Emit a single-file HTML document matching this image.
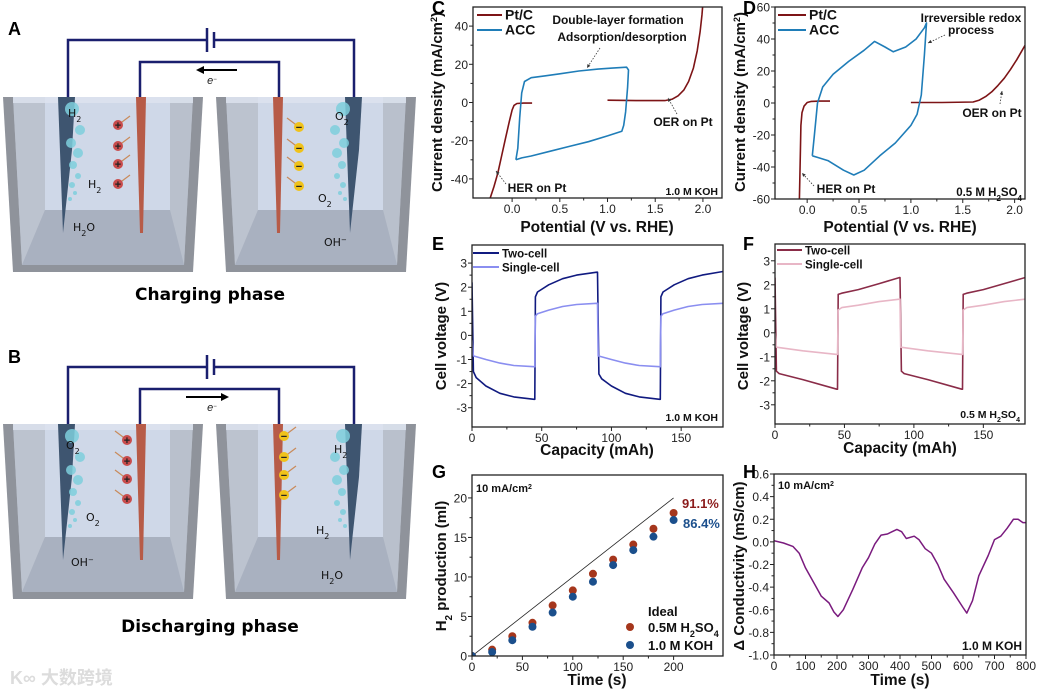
<!DOCTYPE html>
<html><head><meta charset="utf-8">
<style>
html,body{margin:0;padding:0;background:#fff;}
svg{display:block;font-family:"Liberation Sans","Noto Sans CJK SC",sans-serif;}
</style></head>
<body>
<svg id="fig" width="1039" height="692" viewBox="0 0 1039 692" xmlns="http://www.w3.org/2000/svg">
<rect x="0" y="0" width="1039" height="692" fill="#fff"/>
</svg>
<script>
// ---------- DATA ----------
const cPtHerX=[0.21,0.12,0.05,0.02,0.0,-0.03,-0.07,-0.11,-0.15,-0.19,-0.23];
const cPtHerY=[-0.3,-0.3,-0.5,-1.5,-4,-10,-19,-28,-37,-44,-50];
const cPtOerX=[1.0,1.3,1.6,1.68,1.74,1.8,1.85,1.9,1.94,1.97,1.99,2.0];
const cPtOerY=[1.2,1.0,1.0,1.8,3.5,6.5,11,18,27,37,46,52];
const cAccX=[0.04,0.06,0.08,0.1,0.13,0.2,0.35,0.5,0.7,0.9,1.05,1.2,1.22,1.21,1.19,1.17,1.15,1.0,0.8,0.6,0.4,0.2,0.1,0.04];
const cAccY=[-30,-24,-8,5,11,13,14,15,16.5,17.5,18,18.5,17,8,-5,-12,-15,-17.5,-20.5,-23,-25.5,-28,-29,-30];
const dPtHerX=[0.22,0.12,0.04,0.0,-0.03,-0.05,-0.06,-0.065,-0.07,-0.075];
const dPtHerY=[1.2,1.2,1.0,0.3,-2,-6,-14,-30,-45,-60];
const dPtOerX=[1.0,1.3,1.6,1.66,1.72,1.78,1.84,1.9,1.96,2.02,2.1];
const dPtOerY=[0.3,0.3,0.6,1.8,4,7,11,15.5,21,27,36];
const dAccX=[0.05,0.07,0.1,0.15,0.25,0.4,0.55,0.65,0.75,0.83,0.95,1.05,1.13,1.15,1.13,1.1,1.06,1.0,0.85,0.7,0.55,0.45,0.35,0.2,0.1,0.05];
const dAccY=[-33,-20,0,10,18,26,33,38.5,35,32,35,40,47,50,30,5,-7,-14,-25,-33,-42,-45,-42,-36,-34,-33];
const eTwoX=[0,1,3,10,20,30,44.5,45,45.5,47,55,65,75,89.5,90,91,93,100,110,120,134.5,135,135.5,137,145,155,165,180];
const eTwoY=[2.2,-1.5,-1.75,-2.1,-2.4,-2.55,-2.65,-2.65,1.6,1.8,2.1,2.35,2.5,2.62,2.62,-1.6,-1.8,-2.1,-2.4,-2.55,-2.65,-2.65,1.6,1.8,2.1,2.35,2.5,2.65];
const eOneX=[0,1,10,20,30,44.5,45,45.5,47,55,65,75,89.5,90,90.5,100,110,120,134.5,135,135.5,137,145,155,165,180];
const eOneY=[-0.2,-0.85,-1.0,-1.15,-1.25,-1.3,-1.3,0.8,0.9,1.05,1.2,1.28,1.33,1.33,-0.85,-1.0,-1.15,-1.25,-1.3,-1.3,0.8,0.9,1.05,1.2,1.28,1.33];
const fTwoX=[0,1,3,20,44.5,45,45.5,48,60,75,89.5,90,91,93,110,134.5,135,135.5,138,150,165,180];
const fTwoY=[2.3,-1.6,-1.7,-1.95,-2.35,-2.35,1.6,1.65,1.8,2.05,2.3,2.3,-1.6,-1.7,-1.95,-2.35,-2.35,1.6,1.65,1.8,2.05,2.3];
const fOneX=[0,1,20,44.5,45,45.5,48,60,75,89.5,90,90.5,110,134.5,135,135.5,138,150,165,180];
const fOneY=[0,-0.6,-0.75,-0.9,-0.9,0.95,1.05,1.15,1.3,1.4,1.4,-0.6,-0.75,-0.9,-0.9,0.95,1.05,1.15,1.3,1.4];
const gTime=[0,20,40,60,80,100,120,140,160,180,200];
const gAcid=[0,0.8,2.5,4.2,6.4,8.3,10.4,12.2,14.1,16.1,18.1];
const gKoh=[0,0.5,2.0,3.7,5.5,7.5,9.4,11.5,13.4,15.1,17.2];
const gIdealX=[0,200];
const gIdealY=[0,20];
const hTime=[0,30,60,80,100,130,150,175,190,203,220,250,280,300,320,340,360,375,390,405,420,445,460,480,500,520,540,570,600,612,630,650,680,700,720,740,760,775,790,800];
const hCond=[0.01,-0.01,-0.04,-0.1,-0.23,-0.38,-0.48,-0.54,-0.62,-0.66,-0.6,-0.42,-0.23,-0.14,-0.02,0.06,0.07,0.09,0.11,0.09,0.03,0.05,0.02,-0.06,-0.1,-0.2,-0.33,-0.45,-0.58,-0.63,-0.52,-0.3,-0.12,0.02,0.05,0.12,0.2,0.2,0.17,0.17];
const cXTicks=[0,0.5,1,1.5,2], cYTicks=[-40,-20,0,20,40];
const dXTicks=[0,0.5,1,1.5,2], dYTicks=[-60,-40,-20,0,20,40,60];
const eXTicks=[0,50,100,150], eYTicks=[-3,-2,-1,0,1,2,3];
const gXTicks=[0,50,100,150,200], gYTicks=[0,5,10,15,20];
const hXTicks=[0,100,200,300,400,500,600,700,800], hYTicks=[-1,-0.8,-0.6,-0.4,-0.2,0,0.2,0.4,0.6];

// ---------- HELPERS ----------
const NS="http://www.w3.org/2000/svg";
const svg=document.getElementById('fig');
function mk(tag,attrs,name,parent){
  const el=document.createElementNS(NS,tag);
  for(const k in attrs) el.setAttribute(k,attrs[k]);
  
  
  (parent||svg).appendChild(el);
  return el;
}
function txt(x,y,s,opt,name,parent){
  const a={x:x,y:y,'font-size':opt.size||12,fill:opt.fill||'#111'};
  if(opt.bold) a['font-weight']='bold';
  if(opt.anchor) a['text-anchor']=opt.anchor;
  if(opt.rot) a.transform='rotate(-90 '+x+' '+y+')';
  if(opt.italic) a['font-style']='italic';
  if(opt.family) a['font-family']=opt.family;
  const t=mk('text',a,name,parent);
  t.innerHTML=s;
  return t;
}
function fmt(v,d){ return v.toFixed(d); }
function axes(c){
  const g=mk('g',{},c.name);
  const sx=v=>c.L+(v-c.xmin)/(c.xmax-c.xmin)*(c.R-c.L);
  const sy=v=>c.B-(v-c.ymin)/(c.ymax-c.ymin)*(c.B-c.T);
  c.xt.forEach((v,i)=>{
    mk('line',{x1:sx(v),x2:sx(v),y1:c.B,y2:c.B+4,stroke:'#222','stroke-width':1},'x-tick',g);
    txt(sx(v),c.B+15,fmt(v,c.xd),{size:12,anchor:'middle',fill:'#222'},'x-tick-label',g);
    if(i<c.xt.length-1){const m=(v+c.xt[i+1])/2;
      mk('line',{x1:sx(m),x2:sx(m),y1:c.B,y2:c.B+2.5,stroke:'#222','stroke-width':1},'x-minor-tick',g);}
  });
  c.yt.forEach((v,i)=>{
    mk('line',{x1:c.L-4,x2:c.L,y1:sy(v),y2:sy(v),stroke:'#222','stroke-width':1},'y-tick',g);
    txt(c.L-5,sy(v)+4.5,fmt(v,c.yd),{size:12,anchor:'end',fill:'#222'},'y-tick-label',g);
    if(i<c.yt.length-1){const m=(v+c.yt[i+1])/2;
      mk('line',{x1:c.L-2.5,x2:c.L,y1:sy(m),y2:sy(m),stroke:'#222','stroke-width':1},'y-minor-tick',g);}
  });
  const clipId='clip'+c.name;
  const cp=mk('clipPath',{id:clipId},'clip',g);
  mk('rect',{x:c.L,y:c.T,width:c.R-c.L,height:c.B-c.T},'clip-rect',cp);
  const plot=mk('g',{'clip-path':'url(#'+clipId+')'},'plot-area',g);
  mk('rect',{x:c.L,y:c.T,width:c.R-c.L,height:c.B-c.T,fill:'none',stroke:'#222','stroke-width':1.3},'plot-frame',g);
  return {sx,sy,g,plot};
}
function line(ax,X,Y,color,w,name){
  let d='';
  X.forEach((x,i)=>{ d+=(i?'L':'M')+ax.sx(x).toFixed(1)+','+ax.sy(Y[i]).toFixed(1); });
  return mk('path',{d:d,fill:'none',stroke:color,'stroke-width':w,'stroke-linejoin':'round'},name,ax.plot);
}
function dots(ax,X,Y,color,name){
  X.forEach((x,i)=>{ mk('circle',{cx:ax.sx(x),cy:ax.sy(Y[i]),r:4,fill:color},name,ax.plot); });
}
function dashArrow(x1,y1,x2,y2,name){
  mk('line',{x1:x1,y1:y1,x2:x2,y2:y2,stroke:'#333','stroke-width':0.8,'stroke-dasharray':'1.5,1.5'},name);
  const a=Math.atan2(y2-y1,x2-x1),s=4;
  mk('path',{d:`M${x2},${y2}L${x2-s*Math.cos(a-0.45)},${y2-s*Math.sin(a-0.45)}L${x2-s*Math.cos(a+0.45)},${y2-s*Math.sin(a+0.45)}Z`,fill:'#333'},name+'-head');
}
function legLine(x1,x2,y,color,label,size){
  mk('line',{x1:x1,x2:x2,y1:y,y2:y,stroke:color,'stroke-width':2},'legend-line');
  txt(x2+3,y+4.5,label,{size:size,bold:true,fill:'#111'},'legend-label');
}

// ---------- PANEL C ----------
const RED='#7d1416', BLUE='#1f7db8';
const axC=axes({name:'panel-c',L:473,R:722,T:7,B:198,xmin:-0.41,xmax:2.2,ymin:-50,ymax:50,xt:cXTicks,yt:cYTicks,xd:1,yd:0});
line(axC,cPtHerX,cPtHerY,RED,1.6,'ptc-her-curve');
line(axC,cPtOerX,cPtOerY,RED,1.6,'ptc-oer-curve');
line(axC,cAccX,cAccY,BLUE,1.6,'acc-cv-loop');
legLine(477,502,15,RED,'Pt/C',14); legLine(477,502,30,BLUE,'ACC',14);
txt(618,24,'Double-layer formation',{size:12,bold:true,anchor:'middle'},'annotation-double-layer');
txt(622,41,'Adsorption/desorption',{size:12,bold:true,anchor:'middle'},'annotation-adsorption');
dashArrow(600,48,587,68,'arrow-adsorption');
txt(683,126,'OER on Pt',{size:12,bold:true,anchor:'middle'},'annotation-oer-c');
dashArrow(677,114,668,98,'arrow-oer-c');
txt(537,192,'HER on Pt',{size:12,bold:true,anchor:'middle'},'annotation-her-c');
dashArrow(506,184,496,171,'arrow-her-c');
txt(718,195,'1.0 M KOH',{size:10.5,bold:true,anchor:'end'},'electrolyte-label-c');
txt(597,232,'Potential (V vs. RHE)',{size:15.5,bold:true,anchor:'middle'},'x-axis-title-c');
txt(442,102,'Current density (mA/cm<tspan baseline-shift="super" font-size="9">2</tspan>)',{size:15,bold:true,anchor:'middle',rot:true},'y-axis-title-c');

// ---------- PANEL D ----------
const axD=axes({name:'panel-d',L:775,R:1025,T:7,B:199,xmin:-0.31,xmax:2.1,ymin:-60,ymax:60,xt:dXTicks,yt:dYTicks,xd:1,yd:0});
line(axD,dPtHerX,dPtHerY,RED,1.6,'ptc-her-curve-d');
line(axD,dPtOerX,dPtOerY,RED,1.6,'ptc-oer-curve-d');
line(axD,dAccX,dAccY,BLUE,1.6,'acc-cv-loop-d');
legLine(778,806,15,RED,'Pt/C',14); legLine(778,806,30,BLUE,'ACC',14);
txt(971,22,'Irreversible redox',{size:12,bold:true,anchor:'middle'},'annotation-irreversible');
txt(971,34,'process',{size:12,bold:true,anchor:'middle'},'annotation-process');
dashArrow(945,35,928,43,'arrow-redox');
txt(992,117,'OER on Pt',{size:12,bold:true,anchor:'middle'},'annotation-oer-d');
dashArrow(1000,104,1002,91,'arrow-oer-d');
txt(846,193,'HER on Pt',{size:12,bold:true,anchor:'middle'},'annotation-her-d');
dashArrow(814,186,802,173,'arrow-her-d');
txt(1022,196,'0.5 M H<tspan baseline-shift="sub" font-size="8">2</tspan>SO<tspan baseline-shift="sub" font-size="8">4</tspan>',{size:11.5,bold:true,anchor:'end'},'electrolyte-label-d');
txt(900,232,'Potential (V vs. RHE)',{size:15.5,bold:true,anchor:'middle'},'x-axis-title-d');
txt(745,102,'Current density (mA/cm<tspan baseline-shift="super" font-size="9">2</tspan>)',{size:15,bold:true,anchor:'middle',rot:true},'y-axis-title-d');

// ---------- PANEL E ----------
const axE=axes({name:'panel-e',L:472,R:723,T:245,B:427,xmin:0,xmax:180,ymin:-3.8,ymax:3.75,xt:eXTicks,yt:eYTicks,xd:0,yd:0});
line(axE,eTwoX,eTwoY,'#101a80',1.6,'two-cell-curve-e');
line(axE,eOneX,eOneY,'#8a8ef0',1.6,'single-cell-curve-e');
legLine(473,499,253,'#101a80','Two-cell',11.5); legLine(473,499,267,'#8a8ef0','Single-cell',11.5);
txt(718,421,'1.0 M KOH',{size:10.5,bold:true,anchor:'end'},'electrolyte-label-e');
txt(597,455,'Capacity (mAh)',{size:15.5,bold:true,anchor:'middle'},'x-axis-title-e');
txt(446,336,'Cell voltage (V)',{size:15,bold:true,anchor:'middle',rot:true},'y-axis-title-e');

// ---------- PANEL F ----------
const axF=axes({name:'panel-f',L:775,R:1025,T:244,B:424,xmin:0,xmax:180,ymin:-3.8,ymax:3.7,xt:eXTicks,yt:eYTicks,xd:0,yd:0});
line(axF,fTwoX,fTwoY,'#8a2c48',1.6,'two-cell-curve-f');
line(axF,fOneX,fOneY,'#e8b6c6',1.6,'single-cell-curve-f');
legLine(777,802,250,'#8a2c48','Two-cell',11.5); legLine(777,802,264,'#e8b6c6','Single-cell',11.5);
txt(1020,418,'0.5 M H<tspan baseline-shift="sub" font-size="7">2</tspan>SO<tspan baseline-shift="sub" font-size="7">4</tspan>',{size:10.5,bold:true,anchor:'end'},'electrolyte-label-f');
txt(900,453,'Capacity (mAh)',{size:15.5,bold:true,anchor:'middle'},'x-axis-title-f');
txt(748,336,'Cell voltage (V)',{size:15,bold:true,anchor:'middle',rot:true},'y-axis-title-f');

// ---------- PANEL G ----------
const axG=axes({name:'panel-g',L:472,R:723,T:475,B:656,xmin:0,xmax:249,ymin:0,ymax:22.9,xt:gXTicks,yt:gYTicks,xd:0,yd:0});
line(axG,gIdealX,gIdealY,'#222',0.8,'ideal-line');
dots(axG,gTime,gAcid,'#a5361c','h2so4-point');
dots(axG,gTime,gKoh,'#1b4f8c','koh-point');
txt(476,492,'10 mA/cm<tspan baseline-shift="super" font-size="7">2</tspan>',{size:11,bold:true},'current-label-g');
txt(682,508,'91.1%',{size:13,bold:true,fill:'#8c1c1c'},'efficiency-h2so4');
txt(683,528,'86.4%',{size:13,bold:true,fill:'#1b4f8c'},'efficiency-koh');
txt(648,616,'Ideal',{size:13,bold:true},'legend-ideal');
mk('circle',{cx:630,cy:627,r:4,fill:'#a5361c'},'legend-h2so4-marker');
txt(648,632,'0.5M H<tspan baseline-shift="sub" font-size="9">2</tspan>SO<tspan baseline-shift="sub" font-size="9">4</tspan>',{size:13,bold:true},'legend-h2so4');
mk('circle',{cx:630,cy:645,r:4,fill:'#1b4f8c'},'legend-koh-marker');
txt(648,650,'1.0 M KOH',{size:13,bold:true},'legend-koh');
txt(597,685,'Time (s)',{size:15.5,bold:true,anchor:'middle'},'x-axis-title-g');
txt(446,566,'H<tspan baseline-shift="sub" font-size="10">2</tspan> production (ml)',{size:15,bold:true,anchor:'middle',rot:true},'y-axis-title-g');

// ---------- PANEL H ----------
const axH=axes({name:'panel-h',L:774,R:1026,T:474,B:655,xmin:0,xmax:800,ymin:-1,ymax:0.6,xt:hXTicks,yt:hYTicks,xd:0,yd:1});
line(axH,hTime,hCond,'#7a1b7e',1.5,'conductivity-curve');
txt(778,489,'10 mA/cm<tspan baseline-shift="super" font-size="7">2</tspan>',{size:11,bold:true},'current-label-h');
txt(1022,650,'1.0 M KOH',{size:12,bold:true,anchor:'end'},'electrolyte-label-h');
txt(900,685,'Time (s)',{size:15.5,bold:true,anchor:'middle'},'x-axis-title-h');
txt(744,566,'\u0394 Conductivity (mS/cm)',{size:15,bold:true,anchor:'middle',rot:true},'y-axis-title-h');

// ---------- PANEL LABELS ----------
[['A',8,35],['B',8,363],['C',432,14],['D',743,14],['E',432,250],['F',743,250],['G',432,478],['H',743,478]].forEach(p=>{
  txt(p[1],p[2],p[0],{size:18,bold:true,fill:'#000'},'panel-label-'+p[0].toLowerCase());
});

// ---------- SCHEMATICS ----------
function tank(ox,oy,parent){
  mk('polygon',{points:`${ox+3},${oy+97} ${ox+203},${oy+97} ${ox+193},${oy+272} ${ox+13},${oy+272}`,fill:'#8f939b'},'tank-outer',parent);
  mk('polygon',{points:`${ox+13},${oy+97} ${ox+193},${oy+97} ${ox+184},${oy+265} ${ox+22},${oy+265}`,fill:'#b4bac5'},'tank-inner',parent);
  mk('polygon',{points:`${ox+13},${oy+97} ${ox+45},${oy+97} ${ox+45},${oy+210} ${ox+22},${oy+265}`,fill:'#bcc3cf'},'tank-left-wall',parent);
  mk('polygon',{points:`${ox+170},${oy+97} ${ox+193},${oy+97} ${ox+184},${oy+265} ${ox+170},${oy+210}`,fill:'#b9c0cc'},'tank-right-wall',parent);
  mk('rect',{x:ox+45,y:oy+97,width:125,height:113,fill:'#cfd8e8'},'tank-back-wall',parent);
  mk('polygon',{points:`${ox+45},${oy+210} ${ox+170},${oy+210} ${ox+184},${oy+265} ${ox+22},${oy+265}`,fill:'#a9b1c0'},'tank-floor',parent);
  mk('rect',{x:ox+13,y:oy+97,width:180,height:6,fill:'#dde4ef',opacity:0.8},'electrolyte-surface',parent);
}
function darkEl(x,oy,parent){ mk('polygon',{points:`${x},${oy+97} ${x+17},${oy+97} ${x+14},${oy+150} ${x+5},${oy+233}`,fill:'#3e5570'},'carbon-electrode',parent); }
function redEl(x,oy,parent){ mk('polygon',{points:`${x},${oy+97} ${x+10},${oy+97} ${x+7},${oy+233} ${x+4},${oy+233}`,fill:'#b75b47'},'redox-electrode',parent); }
function bubbles(x,oy,side,parent){
  [[0,12,7],[8,33,5],[-1,46,5],[6,56,5],[1,68,4],[6,79,3],[0,88,3],[3,96,2],[-2,102,2]].forEach(b=>{
    mk('circle',{cx:x+side*b[0],cy:oy+97+b[1],r:b[2],fill:'#7ecfdc',opacity:0.85},'gas-bubble',parent);
  });
}
function ion(x,y,pos,parent,dir){
  mk('line',{x1:x,y1:y,x2:x+dir*12,y2:y-9,stroke:'#c98a5a','stroke-width':1.2},'ion-arrow',parent);
  mk('circle',{cx:x,cy:y,r:5,fill:pos?'#c84c4c':'#f0c21a'},pos?'cation':'anion',parent);
  txt(x,y+4,pos?'+':'\u2212',{size:11,anchor:'middle',fill:'#222',bold:true},'ion-sign',parent);
}
function schematic(oy,discharge){
  const g=mk('g',{},discharge?'discharging-schematic':'charging-schematic');
  tank(0,oy,g); tank(213,oy,g);
  darkEl(58,oy,g); redEl(136,oy,g); redEl(273,oy,g); darkEl(345,oy,g);
  bubbles(72,oy,1,g); bubbles(343,oy,-1,g);
  const W='#1a1f6e';
  mk('path',{d:`M68,${oy+97}V${oy+40}H207M214,${oy+40}H354V${oy+97}`,fill:'none',stroke:W,'stroke-width':2.5},'outer-wire',g);
  mk('line',{x1:207,x2:207,y1:oy+28,y2:oy+52,stroke:W,'stroke-width':2.5},'battery-plate-long',g);
  mk('line',{x1:214,x2:214,y1:oy+32,y2:oy+48,stroke:W,'stroke-width':2.5},'battery-plate-short',g);
  mk('path',{d:`M140,${oy+97}V${oy+62}H279V${oy+97}`,fill:'none',stroke:W,'stroke-width':2.5},'inner-wire',g);
  if(!discharge){
    mk('line',{x1:237,x2:202,y1:oy+70,y2:oy+70,stroke:'#000','stroke-width':2},'electron-arrow',g);
    mk('path',{d:`M196,${oy+70}L204,${oy+66}L204,${oy+74}Z`,fill:'#000'},'electron-arrow-head',g);
  } else {
    mk('line',{x1:186,x2:222,y1:oy+70,y2:oy+70,stroke:'#000','stroke-width':2},'electron-arrow',g);
    mk('path',{d:`M229,${oy+70}L221,${oy+66}L221,${oy+74}Z`,fill:'#000'},'electron-arrow-head',g);
  }
  txt(212,oy+84,'e<tspan baseline-shift="super" font-size="6">\u2212</tspan>',{size:11,anchor:'middle',italic:true,fill:'#222'},'electron-label',g);
  const ys=[125,146,164,184];
  if(!discharge){
    ys.forEach(y=>ion(118,oy+y,true,g,1));
    ys.forEach(y=>ion(299,oy+y+2,false,g,-1));
    txt(68,oy+117,'H<tspan baseline-shift="sub" font-size="8">2</tspan>',{size:11,fill:'#111',family:'DejaVu Sans'},'gas-label',g);
    txt(88,oy+188,'H<tspan baseline-shift="sub" font-size="8">2</tspan>',{size:11,fill:'#111',family:'DejaVu Sans'},'gas-label',g);
    txt(73,oy+231,'H<tspan baseline-shift="sub" font-size="8">2</tspan>O',{size:11,fill:'#111',family:'DejaVu Sans'},'reactant-label',g);
    txt(335,oy+120,'O<tspan baseline-shift="sub" font-size="8">2</tspan>',{size:11,fill:'#111',family:'DejaVu Sans'},'gas-label',g);
    txt(318,oy+202,'O<tspan baseline-shift="sub" font-size="8">2</tspan>',{size:11,fill:'#111',family:'DejaVu Sans'},'gas-label',g);
    txt(324,oy+246,'OH<tspan baseline-shift="super" font-size="7">\u2212</tspan>',{size:11,fill:'#111',family:'DejaVu Sans'},'reactant-label',g);
    txt(210,oy+300,'Charging phase',{size:17,bold:true,anchor:'middle',fill:'#000',family:'DejaVu Sans'},'charging-phase-title',g);
  } else {
    ys.forEach(y=>ion(127,oy+y-12,true,g,-1));
    ys.forEach(y=>ion(284,oy+y-16,false,g,1));
    txt(66,oy+122,'O<tspan baseline-shift="sub" font-size="8">2</tspan>',{size:11,fill:'#111',family:'DejaVu Sans'},'gas-label',g);
    txt(86,oy+194,'O<tspan baseline-shift="sub" font-size="8">2</tspan>',{size:11,fill:'#111',family:'DejaVu Sans'},'gas-label',g);
    txt(71,oy+239,'OH<tspan baseline-shift="super" font-size="7">\u2212</tspan>',{size:11,fill:'#111',family:'DejaVu Sans'},'reactant-label',g);
    txt(334,oy+126,'H<tspan baseline-shift="sub" font-size="8">2</tspan>',{size:11,fill:'#111',family:'DejaVu Sans'},'gas-label',g);
    txt(316,oy+207,'H<tspan baseline-shift="sub" font-size="8">2</tspan>',{size:11,fill:'#111',family:'DejaVu Sans'},'gas-label',g);
    txt(321,oy+252,'H<tspan baseline-shift="sub" font-size="8">2</tspan>O',{size:11,fill:'#111',family:'DejaVu Sans'},'reactant-label',g);
    txt(210,oy+305,'Discharging phase',{size:17,bold:true,anchor:'middle',fill:'#000',family:'DejaVu Sans'},'discharging-phase-title',g);
  }
}
schematic(0,false);
schematic(327,true);
txt(10,684,'K&#8734; 大数跨境',{size:18,bold:true,fill:'#dcdcdc'},'watermark');
</script>
</body></html>
